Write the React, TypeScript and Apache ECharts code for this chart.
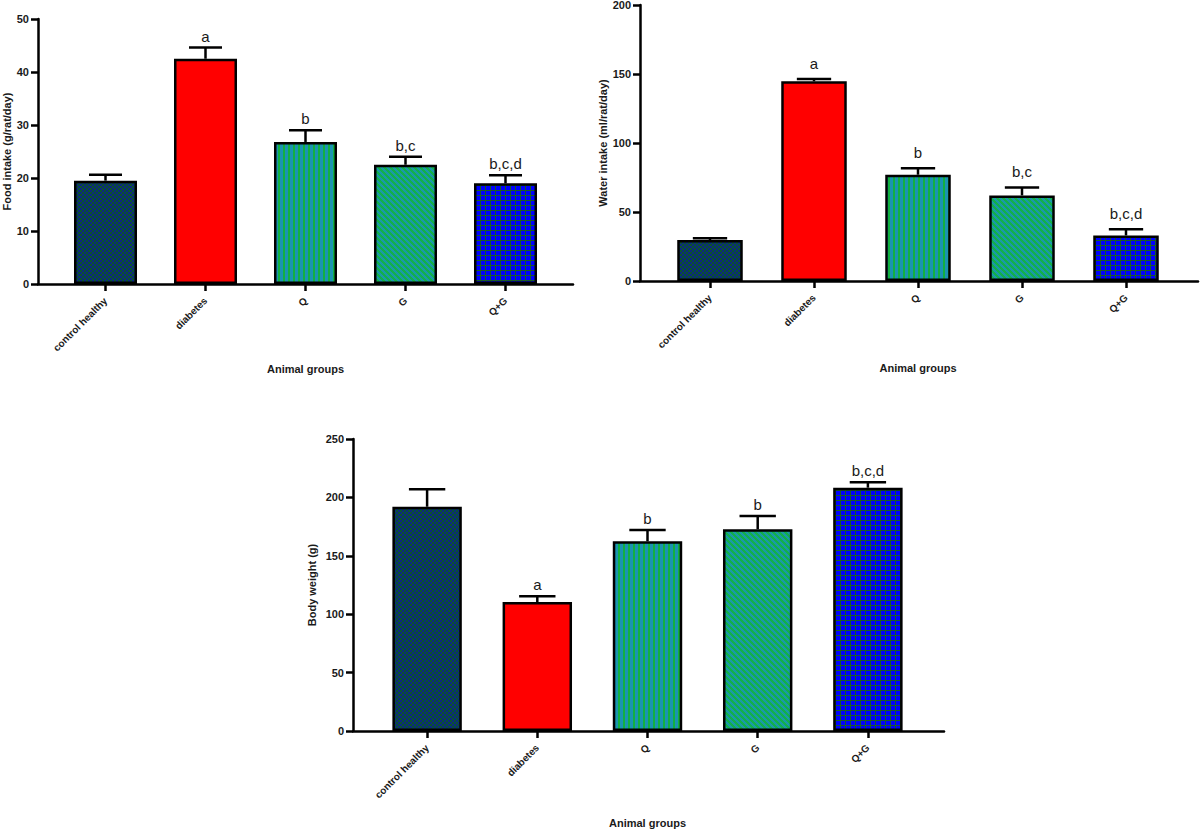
import React, { useEffect, useRef } from "react";
import * as echarts from "echarts";

const groups = ["control healthy", "diabetes", "Q", "G", "Q+G"];
const groupIndex = [0, 1, 2, 3, 4];

const foodMean = [19.5, 42.5, 26.8, 22.5, 19.0];
const foodUpper = [20.6, 44.6, 29.0, 24.0, 20.5];
const foodLetters = ["", "a", "b", "b,c", "b,c,d"];

const waterMean = [29.7, 144.7, 77.0, 62.0, 33.0];
const waterUpper = [31.0, 146.4, 81.7, 67.8, 37.5];
const waterLetters = ["", "a", "b", "b,c", "b,c,d"];

const weightMean = [192.0, 110.4, 162.4, 172.7, 208.3];
const weightUpper = [207.0, 115.3, 172.0, 184.0, 213.0];
const weightLetters = ["", "a", "b", "b", "b,c,d"];

const FONT = "Liberation Sans, Arial, Helvetica, sans-serif";

function makePattern(w: number, h: number, fn: (x: number, y: number) => string) {
  const c = document.createElement("canvas");
  c.width = w;
  c.height = h;
  const ctx = c.getContext("2d")!;
  for (let x = 0; x < w; x++) {
    for (let y = 0; y < h; y++) {
      ctx.fillStyle = fn(x, y);
      ctx.fillRect(x, y, 1, 1);
    }
  }
  return { image: c.toDataURL(), repeat: "repeat", imageWidth: w, imageHeight: h } as any;
}

export default function App() {
  const ref = useRef<HTMLDivElement>(null);
  useEffect(() => {
    if (!ref.current) return;
    const chart = echarts.init(ref.current, undefined, { renderer: "svg" });

    const fills = [
      makePattern(4, 4, (x, y) => ((Math.floor(x / 2) + Math.floor(y / 2)) % 2 === 0 ? "#0c2880" : "#0a5230")),
      "#ff0000",
      makePattern(5, 5, (x) => (x < 3 ? "#1a94b0" : "#12b040")),
      makePattern(6, 6, (x, y) => (((x - y + 60) % 6) < 3 ? "#12b04a" : "#1a9aa6")),
      makePattern(5, 5, (x, y) => (x === 0 || y === 0 ? "#1a5a2a" : "#0000ff")),
    ];

    const charts = [
      { mean: foodMean, upper: foodUpper, letters: foodLetters, min: 0, max: 50, interval: 10,
        name: "Food intake (g/rat/day)", outerLeft: 38, outerW: 535, innerLeft: 55.5, innerW: 500,
        top: 19, height: 265, yNameGap: 25, xNameGap: 79, letterOff: 4 },
      { mean: waterMean, upper: waterUpper, letters: waterLetters, min: 0, max: 200, interval: 50,
        name: "Water intake (ml/rat/day)", outerLeft: 640, outerW: 558, innerLeft: 658, innerW: 520,
        top: 5, height: 276, yNameGap: 32, xNameGap: 81, letterOff: 8 },
      { mean: weightMean, upper: weightUpper, letters: weightLetters, min: 0, max: 250, interval: 50,
        name: "Body weight (g)", outerLeft: 353, outerW: 591, innerLeft: 372, innerW: 551,
        top: 439, height: 292, yNameGap: 36, xNameGap: 86, letterOff: 4 },
    ];

    const grid: any[] = [];
    const xAxis: any[] = [];
    const yAxis: any[] = [];
    const series: any[] = [];

    charts.forEach((c, k) => {
      const outerIdx = k * 2;
      const innerIdx = k * 2 + 1;
      const band = c.innerW / groups.length;
      const oMin = -(c.innerLeft + band / 2 - c.outerLeft) / band;
      const oMax = oMin + c.outerW / band;
      grid.push({ left: c.outerLeft, top: c.top, width: c.outerW, height: c.height, outerBoundsMode: "none" });
      grid.push({ left: c.innerLeft, top: c.top, width: c.innerW, height: c.height, outerBoundsMode: "none" });
      xAxis.push({
        gridIndex: outerIdx, type: "value", min: oMin, max: oMax, position: "bottom",
        axisLine: { show: true, onZero: false, lineStyle: { color: "#000", width: 2.5 } },
        axisTick: { show: true, customValues: groupIndex, length: 7, lineStyle: { color: "#000", width: 2.5 } },
        axisLabel: { show: false }, splitLine: { show: false },
      });
      yAxis.push({
        gridIndex: outerIdx, type: "value", min: c.min, max: c.max, interval: c.interval,
        name: c.name, nameLocation: "middle", nameGap: c.yNameGap,
        nameTextStyle: { fontFamily: FONT, fontWeight: "bold", fontSize: 11, color: "#1a1a1a" },
        axisLine: { show: true, onZero: false, lineStyle: { color: "#000", width: 2.5 } },
        axisTick: { show: true, length: 7, lineStyle: { color: "#000", width: 2.5 } },
        axisLabel: { fontFamily: FONT, fontWeight: "bold", fontSize: 11, color: "#1a1a1a", margin: 9 },
        splitLine: { show: false },
      });
      xAxis.push({
        gridIndex: innerIdx, type: "category", data: groups,
        name: "Animal groups", nameLocation: "middle", nameGap: c.xNameGap,
        nameTextStyle: { fontFamily: FONT, fontWeight: "bold", fontSize: 11, color: "#1a1a1a" },
        axisLine: { show: false },
        axisTick: { show: false },
        axisLabel: { interval: 0, rotate: 45, fontFamily: FONT, fontWeight: "bold", fontSize: 10, color: "#1a1a1a", margin: 15 },
        splitLine: { show: false },
      });
      yAxis.push({ gridIndex: innerIdx, type: "value", min: c.min, max: c.max, show: false, splitLine: { show: false } });

      series.push({
        type: "bar", xAxisIndex: innerIdx, yAxisIndex: innerIdx, barWidth: "63%",
        data: c.mean.map((v, i) => ({
          value: v,
          itemStyle: { color: fills[i], borderColor: "#000", borderWidth: 2.5 },
        })),
        z: 2,
      });
      const letters = c.letters;
      const off = c.letterOff;
      series.push({
        type: "custom", xAxisIndex: innerIdx, yAxisIndex: innerIdx, z: 3,
        data: c.mean.map((v, i) => [i, v, c.upper[i]]),
        renderItem: (params: any, api: any) => {
          const i = api.value(0);
          const p0 = api.coord([i, api.value(1)]);
          const p1 = api.coord([i, api.value(2)]);
          const half = api.size([1, 0])[0] * 0.165;
          const letter = letters[params.dataIndex];
          return {
            type: "group",
            children: [
              { type: "line", shape: { x1: p0[0], y1: p0[1], x2: p1[0], y2: p1[1] }, style: { stroke: "#000", lineWidth: 2.5 } },
              { type: "line", shape: { x1: p1[0] - half, y1: p1[1], x2: p1[0] + half, y2: p1[1] }, style: { stroke: "#000", lineWidth: 2.5 } },
              {
                type: "text", x: p1[0], y: p1[1] - off,
                style: { text: letter, fontFamily: FONT, fontSize: 15, fill: "#1a1a1a", align: "center", verticalAlign: "bottom" },
              },
            ],
          };
        },
      });
    });

    chart.setOption({
      animation: false,
      backgroundColor: "#ffffff",
      grid, xAxis, yAxis, series,
    });
    return () => chart.dispose();
  }, []);

  return <div ref={ref} style={{ position: "absolute", left: 0, top: 0, width: 1200, height: 832 }} />;
}
